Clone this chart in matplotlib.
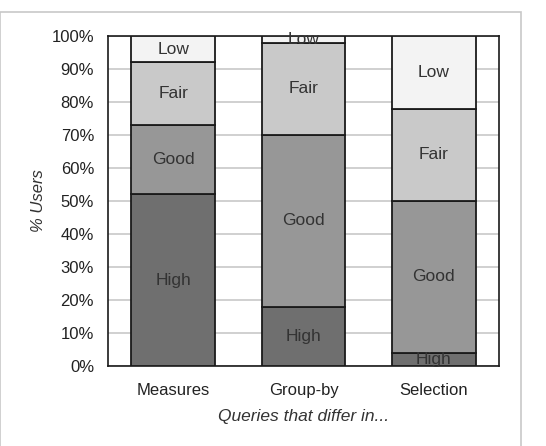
import numpy as np
import matplotlib
matplotlib.use("Agg")
import matplotlib.pyplot as plt
from matplotlib.patches import Rectangle

plt.rcParams["font.family"] = ["Liberation Sans", "DejaVu Sans"]

categories = ["Measures", "Group-by", "Selection"]
levels     = ["High", "Good", "Fair", "Low"]
high = [52, 18, 4]
good = [21, 52, 46]
fair = [19, 28, 28]
low  = [8, 2, 22]
colors = ["#6f6f6f", "#979797", "#c9c9c9", "#f3f3f3"]

fig = plt.figure(figsize=(5.46, 4.46), dpi=100)
# light outer frame
fig.patches.append(Rectangle((0.0, -0.05), 521 / 546, 1.05 - 12 / 446,
                             transform=fig.transFigure, fill=False,
                             edgecolor="#c8c8c8", linewidth=1.2))
ax = fig.add_axes([108 / 546, 1 - 366 / 446, 391 / 546, 330 / 446])

x = np.arange(len(categories))
bottom = np.zeros(len(categories))
for name, vals, col in zip(levels, [high, good, fair, low], colors):
    vals = np.array(vals, dtype=float)
    ax.bar(x, vals, 0.64, bottom=bottom, color=col, edgecolor="#1a1a1a",
           linewidth=1.3, zorder=3)
    for xi, b, v in zip(x, bottom, vals):
        ax.text(xi, b + v / 2, name, ha="center", va="center",
                fontsize=12.5, color="#333333", zorder=4)
    bottom += vals

ax.set_xlim(-0.5, 2.5)
ax.set_ylim(0, 100)
ax.set_yticks(np.arange(0, 101, 10))
ax.set_yticklabels([f"{v}%" for v in range(0, 101, 10)])
ax.set_xticks(x)
ax.set_xticklabels(categories)
ax.tick_params(length=0, labelsize=12, colors="#222222")
ax.tick_params(axis="y", pad=10)
ax.tick_params(axis="x", pad=12)
ax.yaxis.grid(True, color="#c8c8c8", linewidth=1.2, zorder=0)
ax.set_axisbelow(True)
for s in ax.spines.values():
    s.set_color("#1a1a1a")
    s.set_linewidth(1.2)

ax.set_ylabel("% Users", fontstyle="italic", fontsize=12, color="#333333", labelpad=4)
ax.set_xlabel("Queries that differ in...", fontstyle="italic", fontsize=12.5,
              color="#333333", labelpad=8)

fig.savefig("out.png", dpi=100)
